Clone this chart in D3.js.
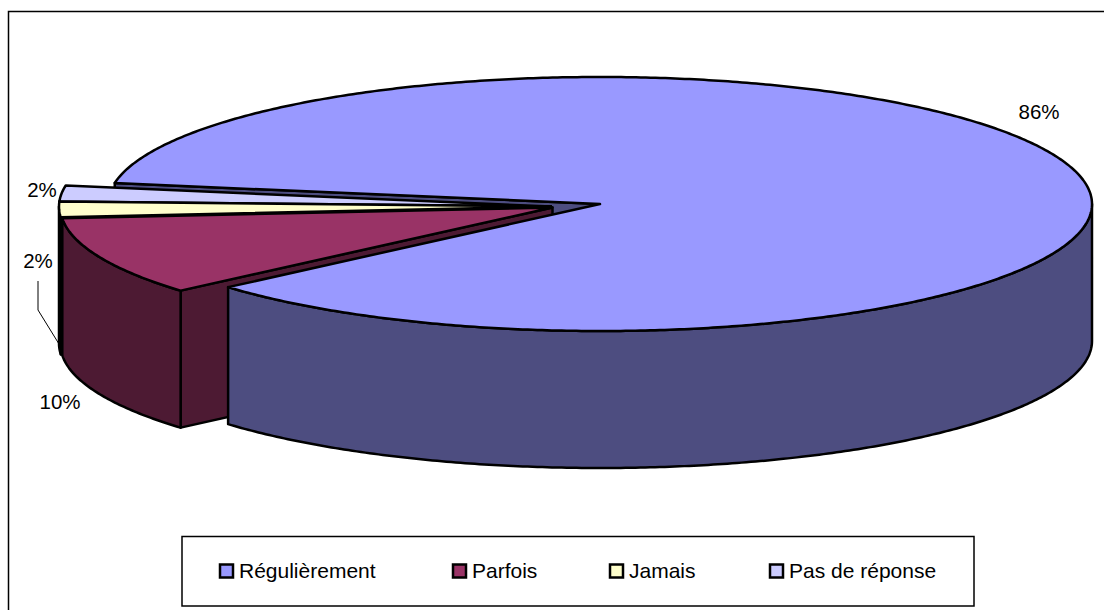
<!DOCTYPE html>
<html>
<head>
<meta charset="utf-8">
<script src="https://cdn.jsdelivr.net/npm/d3@7"></script>
<style>
  html, body { margin: 0; padding: 0; background: #fff; }
  svg { display: block; }
  text { font-family: "Liberation Sans", Arial, sans-serif; fill: #000; }
</style>
</head>
<body>
<svg id="chart" width="1104" height="610"></svg>
<script>
const categories = ['Régulièrement', 'Parfois', 'Jamais', 'Pas de réponse'];
const shares = [86, 10, 2, 2];
const shareLabels = ['86%', '10%', '2%', '2%'];
const topColors = ['#9999ff', '#993366', '#ffffcc', '#ccccff'];
const wallColors = ['#4d4d80', '#4d1a33', '#808066', '#666680'];

const width = 1104, height = 610;
const svg = d3.select('#chart');

// frame
svg.append('path').attr('d', `M8.5,${height}V11.5H${width}`)
  .attr('fill', 'none').attr('stroke', '#000').attr('stroke-width', 1.5);

// tilted pie: unit circle -> screen
const rx = 492, ry = 127, depth = 137;
const sx = d3.scaleLinear().domain([-1, 1]).range([-rx, rx]);
const sy = d3.scaleLinear().domain([-1, 1]).range([-ry, ry]);

const start = 279.5 * Math.PI / 180;
const pie = d3.pie().sort(null).startAngle(start).endAngle(start + 2 * Math.PI);
const arcs = pie(shares);
// the small slices wrap past 360 deg, bring them back
arcs.forEach((d, i) => {
  if (i > 0) { d.startAngle -= 2 * Math.PI; d.endAngle -= 2 * Math.PI; }
});

// slice centres, the three small ones are pulled out to the left
const centers = [[600, 204], [552.5, 207.5], [551, 206.5], [551, 206.5]];

const pt = (i, a, dz = 0) => [
  centers[i][0] + sx(Math.sin(a)),
  centers[i][1] + sy(-Math.cos(a)) + dz
];
const line = d3.line();
const sweep = (i, a0, a1, dz = 0) => {
  const n = Math.max(2, Math.ceil(Math.abs(a1 - a0) / 0.01));
  return d3.range(n + 1).map(k => pt(i, a0 + (a1 - a0) * k / n, dz));
};

const g = svg.append('g')
  .attr('stroke', '#000').attr('stroke-width', 2.5).attr('stroke-linejoin', 'round');

const topFace = i => line([centers[i], ...sweep(i, arcs[i].startAngle, arcs[i].endAngle)]) + 'Z';

// outer wall of a slice: only the part facing the viewer (a between 90 and 270 deg)
const outerWall = i => {
  const a0 = Math.max(arcs[i].startAngle, Math.PI / 2);
  const a1 = Math.min(arcs[i].endAngle, 3 * Math.PI / 2);
  if (a1 <= a0) return null;
  return line([...sweep(i, a0, a1), ...sweep(i, a1, a0, depth)]) + 'Z';
};

const cutWall = (i, a) => {
  const c = centers[i], e = pt(i, a);
  return line([c, e, [e[0], e[1] + depth], [c[0], c[1] + depth]]) + 'Z';
};

const mainSlice = 0, parfois = 1, jamais = 2, pasRep = 3;
const mainEnd = arcs[mainSlice].endAngle;
const mainStart = arcs[mainSlice].startAngle;

// far cut face of the big slice, shows through the notch
g.append('path').attr('d', cutWall(mainSlice, mainStart)).attr('fill', wallColors[mainSlice]);

[pasRep, jamais, parfois].forEach(i => {
  g.append('path').attr('d', cutWall(i, arcs[i].startAngle)).attr('fill', wallColors[i]);
  const w = outerWall(i);
  if (w) g.append('path').attr('d', w).attr('fill', wallColors[i]);
  g.append('path').attr('d', topFace(i)).attr('fill', topColors[i]);
});

// big slice goes last, its wall wraps from the right edge round to the notch
const wallFrom = 2 * Math.PI + Math.PI / 2;
const wallPts = [...sweep(mainSlice, wallFrom, mainEnd), ...sweep(mainSlice, mainEnd, wallFrom, depth)];
g.append('path').attr('d', line(wallPts) + 'Z').attr('fill', wallColors[mainSlice]);
g.append('path').attr('d', topFace(mainSlice)).attr('fill', topColors[mainSlice]);

// percent labels
const labelPos = [[1039, 112], [60, 402], [38, 261], [42, 190]];
svg.selectAll('.pct').data(shareLabels).join('text')
  .attr('class', 'pct')
  .attr('x', (d, i) => labelPos[i][0])
  .attr('y', (d, i) => labelPos[i][1])
  .attr('dy', '0.35em')
  .attr('text-anchor', 'middle')
  .style('font-size', '20.5px')
  .text(d => d);

// leader line for the Jamais label
svg.append('path').attr('d', line([[38, 281], [38, 310], [59, 344]]))
  .attr('fill', 'none').attr('stroke', '#000').attr('stroke-width', 1);

// legend
svg.append('rect').attr('x', 182).attr('y', 536.5).attr('width', 792).attr('height', 69.5)
  .attr('fill', '#fff').attr('stroke', '#000').attr('stroke-width', 1.5);

const legendX = [220, 453, 610, 770];
const legend = svg.selectAll('.lg').data(categories).join('g')
  .attr('class', 'lg')
  .attr('transform', (d, i) => `translate(${legendX[i]},571)`);
legend.append('rect')
  .attr('x', 0).attr('y', -6.5).attr('width', 13).attr('height', 13)
  .attr('fill', (d, i) => topColors[i]).attr('stroke', '#000').attr('stroke-width', 2.5);
legend.append('text')
  .attr('x', 19).attr('dy', '0.35em')
  .style('font-size', '21px')
  .text(d => d);
</script>
</body>
</html>
